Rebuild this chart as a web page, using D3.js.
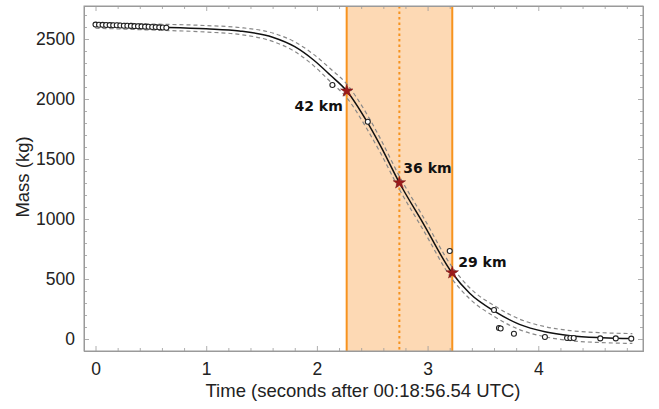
<!DOCTYPE html>
<html><head><meta charset="utf-8">
<script src="https://cdn.jsdelivr.net/npm/d3@7"></script>
<style>body{margin:0;background:#fff}svg{display:block}</style>
</head><body>
<svg id="c" width="659" height="409" style="font-family:'Liberation Sans',Arial,sans-serif"></svg>
<script>
// Observed data (time in s, mass in kg)
const obsTime = [0,0.032,0.064,0.096,0.128,0.16,0.192,0.224,0.256,0.288,0.32,0.352,0.384,0.416,0.448,0.48,0.512,0.544,0.576,0.608,0.64,
  2.14,2.46,3.20,3.60,3.645,3.66,3.78,4.06,4.26,4.29,4.32,4.56,4.70,4.84];
const obsMass = [2620,2619,2618,2617,2616,2615,2614,2612,2611,2610,2609,2607,2606,2605,2603,2602,2600,2599,2597,2596,2594,
  2117,1811,733,242,92,88,44,17,8,8,8,5,5,3];
// Fitted curve
const fitTime = [0,0.5,1.0,1.3,1.6,1.8,1.97,2.12,2.27,2.45,2.57,2.745,2.96,3.22,3.38,3.61,3.83,4.06,4.29,4.58,4.85];
const fitMass = [2614,2600,2585,2567,2515,2436,2325,2200,2067,1815,1617,1302,964,552,381,228,122,61,28,11,4];
const fitUpper = [2638,2625,2612,2596,2550,2476,2372,2254,2124,1876,1676,1357,1018,603,427,273,166,103,70,52,45];
const fitLower = [2590,2575,2558,2538,2480,2396,2278,2146,2010,1754,1558,1247,910,501,335,183,78,19,-14,-30,-37];
// Altitude markers
const markTime = [2.27,2.745,3.223];
const markMass = [2067,1302,552];
const markLabel = ["42 km","36 km","29 km"];
// Shaded interval
const bandTime = [2.269,3.223];
const bandMid = 2.745;
// Ticks
const xTicks = [0,1,2,3,4];
const yTicks = [0,500,1000,1500,2000,2500];

const svg = d3.select("#c");
const m = {l:84,t:6,r:16,b:58};
const W = 659, H = 409;
const x = d3.scaleLinear().domain([-0.104,4.946]).range([m.l, W-m.r]);
const y = d3.scaleLinear().domain([-100,2775]).range([H-m.b, m.t]);

// shaded band
svg.append("rect").attr("x",x(bandTime[0])).attr("y",m.t).attr("width",x(bandTime[1])-x(bandTime[0]))
  .attr("height",H-m.b-m.t).attr("fill","#fdd9b4");
bandTime.forEach(t=>svg.append("line").attr("x1",x(t)).attr("x2",x(t)).attr("y1",m.t).attr("y2",H-m.b)
  .attr("stroke","#f7931e").attr("stroke-width",2));
svg.append("line").attr("x1",x(bandMid)).attr("x2",x(bandMid)).attr("y1",m.t).attr("y2",H-m.b)
  .attr("stroke","#f7931e").attr("stroke-width",2).attr("stroke-dasharray","2.5,3");

// axes frame with inward ticks
const gray = "#9a9a9a";
function frame(){
  const xMinor = d3.range(0,4.81,0.2).filter(v=>Math.abs(v-Math.round(v))>1e-6);
  const yMinor = d3.range(-100,2701,100).filter(v=>v%500!==0);
  svg.append("g").attr("transform",`translate(0,${H-m.b})`)
    .call(d3.axisBottom(x).tickValues(xTicks).tickSizeInner(-5).tickSizeOuter(0).tickPadding(12).tickFormat(d3.format("d")));
  svg.append("g").attr("transform",`translate(0,${m.t})`)
    .call(d3.axisTop(x).tickValues(xTicks).tickSizeInner(-5).tickSizeOuter(0).tickFormat(""));
  svg.append("g").attr("transform",`translate(${m.l},0)`)
    .call(d3.axisLeft(y).tickValues(yTicks).tickSizeInner(-5).tickSizeOuter(0).tickPadding(9).tickFormat(d3.format("d")));
  svg.append("g").attr("transform",`translate(${W-m.r},0)`)
    .call(d3.axisRight(y).tickValues(yTicks).tickSizeInner(-5).tickSizeOuter(0).tickFormat(""));
  svg.append("g").attr("transform",`translate(0,${H-m.b})`).call(d3.axisBottom(x).tickValues(xMinor).tickSizeInner(-3).tickSizeOuter(0).tickFormat(""));
  svg.append("g").attr("transform",`translate(0,${m.t})`).call(d3.axisTop(x).tickValues(xMinor).tickSizeInner(-3).tickSizeOuter(0).tickFormat(""));
  svg.append("g").attr("transform",`translate(${m.l},0)`).call(d3.axisLeft(y).tickValues(yMinor).tickSizeInner(-3).tickSizeOuter(0).tickFormat(""));
  svg.append("g").attr("transform",`translate(${W-m.r},0)`).call(d3.axisRight(y).tickValues(yMinor).tickSizeInner(-3).tickSizeOuter(0).tickFormat(""));
  svg.selectAll(".domain").attr("stroke",gray).attr("stroke-width",1);
  svg.selectAll(".tick line").attr("stroke",gray).attr("stroke-width",0.8);
  svg.selectAll(".tick text").attr("fill","#222")
    .style("font-family","'Liberation Sans', Arial, sans-serif").style("font-size","17.5px");
}
frame();
svg.append("rect").attr("x",m.l).attr("y",m.t).attr("width",W-m.l-m.r).attr("height",H-m.t-m.b)
  .attr("fill","none").attr("stroke",gray).attr("stroke-width",1);

// fit lines
const idx = d3.range(fitTime.length);
const line = arr => d3.line().x(i=>x(fitTime[i])).y(i=>y(arr[i])).curve(d3.curveMonotoneX)(idx);
svg.append("path").attr("d",line(fitUpper)).attr("fill","none").attr("stroke","#888").attr("stroke-width",1.2).attr("stroke-dasharray","4,3");
svg.append("path").attr("d",line(fitLower)).attr("fill","none").attr("stroke","#888").attr("stroke-width",1.2).attr("stroke-dasharray","4,3");
svg.append("path").attr("d",line(fitMass)).attr("fill","none").attr("stroke","#111").attr("stroke-width",1.5);

// observations
svg.append("g").selectAll("circle").data(d3.range(obsTime.length)).join("circle")
  .attr("cx",i=>x(obsTime[i])).attr("cy",i=>y(obsMass[i])).attr("r",2.5)
  .attr("fill","#fff").attr("stroke","#222").attr("stroke-width",1.1);

// markers
const star = d3.symbol().type(d3.symbolStar).size(48);
svg.append("g").selectAll("path").data(d3.range(markTime.length)).join("path")
  .attr("d",star).attr("transform",i=>`translate(${x(markTime[i])},${y(markMass[i])})`)
  .attr("fill","#9b1b1b").attr("stroke","#7a1010").attr("stroke-width",0.5);
const lblOff = [[-4,20,"end"],[4,-10,"start"],[6,-6,"start"]];
svg.append("g").selectAll("text").data(d3.range(markTime.length)).join("text")
  .attr("x",i=>x(markTime[i])+lblOff[i][0]).attr("y",i=>y(markMass[i])+lblOff[i][1])
  .attr("text-anchor",i=>lblOff[i][2])
  .style("font-family","'DejaVu Sans', sans-serif").style("font-weight","bold").style("font-size","14px")
  .attr("fill","#111").text(i=>markLabel[i]);

// axis titles
svg.append("text").attr("x",363).attr("y",397).attr("text-anchor","middle").style("font-size","18.5px").attr("fill","#222")
  .text("Time (seconds after 00:18:56.54 UTC)");
svg.append("text").attr("transform","translate(29,177) rotate(-90)").attr("text-anchor","middle").style("font-size","18.5px").attr("fill","#222")
  .text("Mass (kg)");
</script>
</body></html>
